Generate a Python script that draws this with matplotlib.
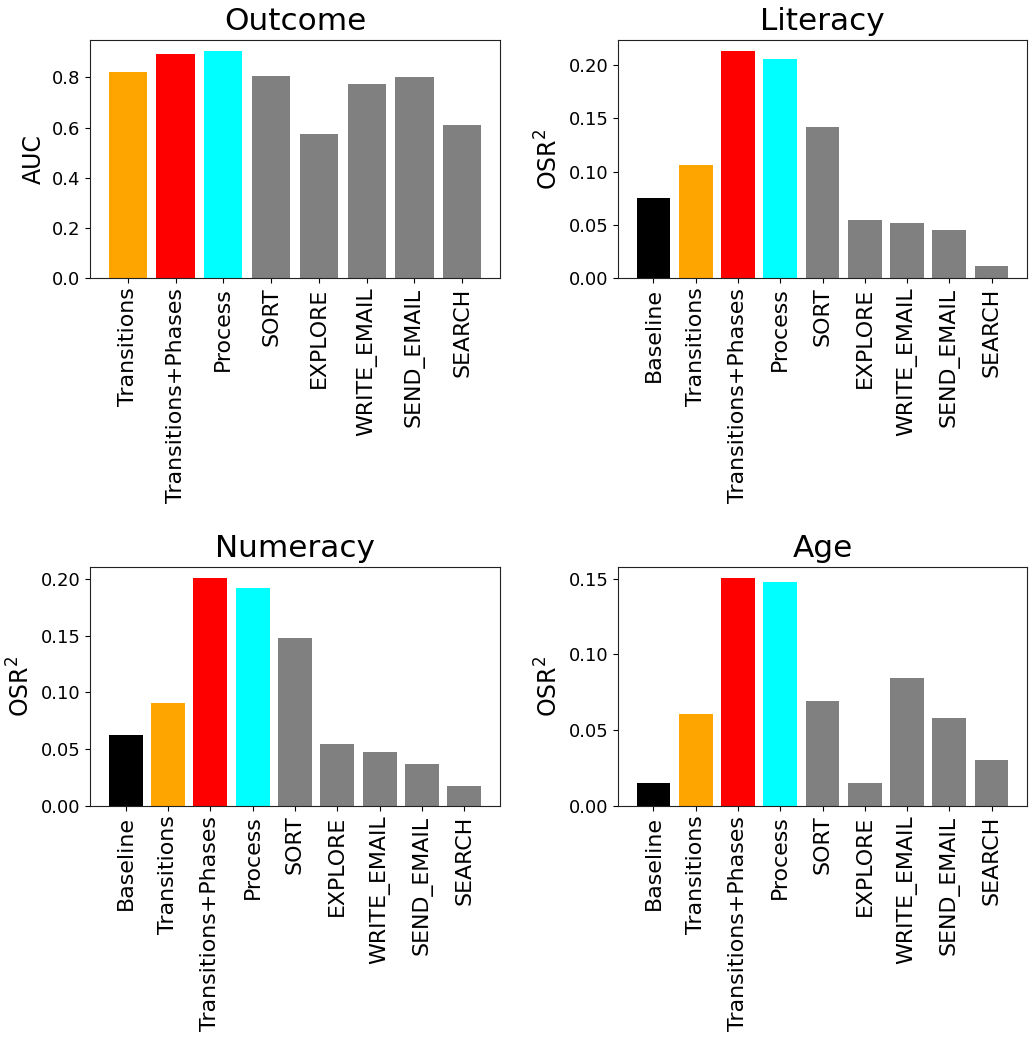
import matplotlib
matplotlib.use("Agg")
import matplotlib.pyplot as plt
from matplotlib.ticker import MultipleLocator

labels_outcome = ["Transitions", "Transitions+Phases", "Process", "SORT", "EXPLORE",
                  "WRITE_EMAIL", "SEND_EMAIL", "SEARCH"]
labels_full = ["Baseline", "Transitions", "Transitions+Phases", "Process", "SORT", "EXPLORE",
               "WRITE_EMAIL", "SEND_EMAIL", "SEARCH"]

outcome_auc = [0.820, 0.892, 0.904, 0.804, 0.573, 0.772, 0.800, 0.609]
literacy_osr2 = [0.075, 0.106, 0.213, 0.206, 0.1416, 0.0544, 0.0516, 0.045, 0.0113]
numeracy_osr2 = [0.0622, 0.0903, 0.2003, 0.1915, 0.1475, 0.0543, 0.0472, 0.0367, 0.0173]
age_osr2 = [0.0150, 0.0605, 0.1502, 0.1476, 0.0691, 0.0150, 0.0842, 0.0578, 0.0301]

colors_outcome = ["orange", "red", "cyan"] + ["grey"] * 5
colors_full = ["black", "orange", "red", "cyan"] + ["grey"] * 5

W, H = 1029, 1042
fig = plt.figure(figsize=(W / 100, H / 100), dpi=100)

def add_ax(l, t, r, b):
    return fig.add_axes([l / W, 1 - b / H, (r - l) / W, (b - t) / H])

panels = [
    ((90, 40, 500, 278), "Outcome", "AUC", labels_outcome, outcome_auc, colors_outcome, 0.2),
    ((618, 40, 1027, 278), "Literacy", "OSR$^2$", labels_full, literacy_osr2, colors_full, 0.05),
    ((90, 567, 500, 806), "Numeracy", "OSR$^2$", labels_full, numeracy_osr2, colors_full, 0.05),
    ((618, 567, 1027, 806), "Age", "OSR$^2$", labels_full, age_osr2, colors_full, 0.05),
]

for box, title, ylab, labs, vals, cols, step in panels:
    ax = add_ax(*box)
    ax.bar(labs, vals, color=cols)
    ax.set_title(title, fontsize=22.4, pad=7)
    ax.set_ylabel(ylab, fontsize=17)
    ax.yaxis.set_major_locator(MultipleLocator(step))
    ax.tick_params(axis="y", labelsize=13)
    ax.tick_params(axis="x", labelsize=15.9, labelrotation=90)
    for s in ax.spines.values():
        s.set_color("#222222")

fig.savefig("out.png", dpi=100)
